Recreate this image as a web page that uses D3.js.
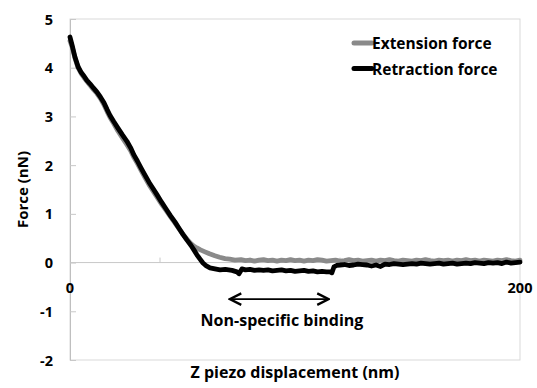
<!DOCTYPE html>
<html>
<head>
<meta charset="utf-8">
<script src="https://cdn.jsdelivr.net/npm/d3@7"></script>
<style>
  html, body { margin: 0; padding: 0; background: #fff; }
  svg { display: block; }
  text { font-family: "Open Sans", Lato, sans-serif; font-weight: 700; fill: #000; }
</style>
</head>
<body>
<svg id="chart" width="537" height="388"></svg>
<script>
// Z piezo displacement (nm) and force (nN) for the approach (extension) curve
const extX = [0, 1, 2.2, 3.6, 5, 6.2, 7.5, 8.9, 10.5, 12, 13.5, 15.1, 16.5, 17.8, 19.5, 21.3, 23.3, 25.3, 26.9, 28.4, 30, 31.6, 33.4, 35.1, 36.9, 38.7, 40.7, 42.7, 44.7, 46.7, 48.5, 50.2, 52, 53.5, 55, 56.4, 58, 60, 62, 64.4, 66.5, 68.9, 71, 73.3, 76, 78, 80, 82, 84, 86, 88, 90, 92, 94, 96, 98, 100, 102, 104, 106, 108, 110, 112, 114, 116, 118, 120, 122, 124, 126, 128, 130, 132, 134, 136, 138, 140, 142, 144, 146, 148, 150, 152, 154, 156, 158, 160, 162, 164, 166, 168, 170, 172, 174, 176, 178, 180, 182, 184, 186, 188, 190, 192, 194, 196, 198, 200];
const extY = [4.55, 4.42, 4.2, 4.0, 3.88, 3.8, 3.72, 3.64, 3.55, 3.47, 3.37, 3.24, 3.1, 2.98, 2.85, 2.7, 2.56, 2.42, 2.3, 2.16, 2.03, 1.89, 1.74, 1.6, 1.47, 1.34, 1.2, 1.07, 0.94, 0.81, 0.69, 0.58, 0.48, 0.4, 0.34, 0.3, 0.26, 0.22, 0.18, 0.14, 0.11, 0.08, 0.07, 0.05, 0.06, 0.04, 0.05, 0.03, 0.05, 0.06, 0.04, 0.05, 0.03, 0.05, 0.04, 0.06, 0.04, 0.05, 0.03, 0.05, 0.04, 0.06, 0.05, 0.03, 0.04, 0.05, 0.03, 0.04, 0.06, 0.04, 0.05, 0.03, 0.04, 0.05, 0.03, 0.05, 0.04, 0.06, 0.04, 0.03, 0.05, 0.04, 0.03, 0.05, 0.04, 0.06, 0.04, 0.03, 0.05, 0.04, 0.05, 0.03, 0.05, 0.04, 0.06, 0.04, 0.05, 0.03, 0.05, 0.04, 0.03, 0.05, 0.04, 0.06, 0.04, 0.03, 0.05];

// Withdrawal (retraction) curve
const retX = [0, 0.9, 2.2, 3.6, 5, 6.2, 7.5, 8.9, 10.5, 12, 13.5, 15.1, 16.5, 17.8, 19.5, 21.3, 23.3, 25.3, 26.9, 28.4, 30, 31.6, 33.4, 35.1, 36.9, 38.7, 40.7, 42.7, 44.7, 46.7, 48.5, 50.2, 52, 53.8, 55.2, 56.4, 57.8, 59.1, 60.6, 62.2, 64.4, 66.7, 69, 72, 74.2, 75.1, 76.4, 78, 80, 82, 84, 86, 88, 90, 92, 94, 96, 98, 100, 102, 104, 106, 108, 110, 112, 114, 115.6, 116.4, 117.3, 118.5, 120, 122, 124, 126, 128, 130, 132, 134, 136, 138, 140, 142, 144, 146, 148, 150, 152, 154, 156, 158, 160, 162, 164, 166, 168, 170, 172, 174, 176, 178, 180, 182, 184, 186, 188, 190, 192, 194, 196, 198, 200];
const retY = [4.63, 4.47, 4.22, 4.02, 3.9, 3.83, 3.74, 3.67, 3.58, 3.5, 3.4, 3.28, 3.14, 3.02, 2.89, 2.76, 2.62, 2.49, 2.36, 2.21, 2.08, 1.94, 1.79, 1.65, 1.52, 1.39, 1.24, 1.1, 0.96, 0.83, 0.7, 0.58, 0.46, 0.35, 0.25, 0.16, 0.07, -0.01, -0.07, -0.11, -0.13, -0.15, -0.14, -0.16, -0.19, -0.23, -0.13, -0.15, -0.14, -0.16, -0.15, -0.16, -0.15, -0.17, -0.16, -0.15, -0.17, -0.16, -0.18, -0.17, -0.16, -0.18, -0.17, -0.19, -0.18, -0.19, -0.19, -0.21, -0.09, -0.06, -0.05, -0.04, -0.06, -0.05, -0.03, -0.04, -0.05, -0.07, -0.05, -0.08, -0.03, -0.04, -0.02, -0.03, -0.04, -0.03, -0.02, -0.03, -0.01, -0.02, -0.03, -0.02, -0.01, -0.03, -0.02, -0.01, -0.03, -0.02, -0.01, -0.02, 0.0, -0.01, -0.02, 0.0, -0.01, 0.0, -0.02, 0.01, -0.01, 0.0, 0.01];

const yTicks = [-2, -1, 0, 1, 2, 3, 4, 5];
const xTickLabels = [0, 200];
const xMinorTicks = [40, 80, 120, 160];
const seriesNames = ["Extension force", "Retraction force"];
const seriesColors = ["#8a8a8a", "#000000"];
const bindingRange = [71, 115];

const svg = d3.select("#chart");
const m = { left: 70, right: 17, top: 19, bottom: 28 };
const W = 537, H = 388;

const x = d3.scaleLinear().domain([0, 200]).range([m.left, W - m.right]);
const y = d3.scaleLinear().domain([-2, 5]).range([H - m.bottom, m.top]);

// Plot-area frame
svg.append("rect")
  .attr("x", x(0)).attr("y", y(5))
  .attr("width", x(200) - x(0)).attr("height", y(-2) - y(5))
  .attr("fill", "none").attr("stroke", "#d9d9d9").attr("stroke-width", 1);

// Horizontal axis along zero force
svg.append("line")
  .attr("x1", x(0)).attr("x2", x(200))
  .attr("y1", y(0)).attr("y2", y(0))
  .attr("stroke", "#c8c8c8").attr("stroke-width", 1);

svg.selectAll(".xminor").data(xMinorTicks).join("line")
  .attr("x1", d => x(d)).attr("x2", d => x(d))
  .attr("y1", y(0)).attr("y2", y(0) - 5)
  .attr("stroke", "#c8c8c8");

// Vertical axis
const yAxis = d3.axisRight(y).tickValues(yTicks).tickSize(6).tickFormat("");
const ya = svg.append("g").attr("transform", `translate(${x(0)},0)`).call(yAxis);
ya.select(".domain").attr("stroke", "#bfbfbf");
ya.selectAll(".tick line").attr("stroke", "#c8c8c8");

svg.selectAll(".ylab").data(yTicks).join("text")
  .attr("x", 53).attr("y", d => y(d))
  .attr("text-anchor", "end").attr("dominant-baseline", "central")
  .attr("font-size", 14.5)
  .text(d => d);

svg.selectAll(".xlab").data(xTickLabels).join("text")
  .attr("x", d => x(d)).attr("y", y(0) + 25)
  .attr("text-anchor", "middle").attr("dominant-baseline", "central")
  .attr("font-size", 14.5)
  .text(d => d);

// Axis titles
svg.append("text")
  .attr("x", (x(0) + x(200)) / 2).attr("y", 372)
  .attr("text-anchor", "middle").attr("dominant-baseline", "central")
  .attr("font-size", 16)
  .text("Z piezo displacement (nm)");

svg.append("text")
  .attr("transform", `translate(22,${(y(5) + y(-2)) / 2}) rotate(-90)`)
  .attr("text-anchor", "middle").attr("dominant-baseline", "central")
  .attr("font-size", 15)
  .text("Force (nN)");

// Force curves
const line = d3.line().x(d => x(d[0])).y(d => y(d[1]));
const series = [d3.zip(extX, extY), d3.zip(retX, retY)];
svg.selectAll(".curve").data(series).join("path")
  .attr("d", line)
  .attr("fill", "none")
  .attr("stroke", (d, i) => seriesColors[i])
  .attr("stroke-width", 4.8)
  .attr("stroke-linejoin", "round")
  .attr("stroke-linecap", "round");

// Legend
const lg = svg.append("g");
seriesNames.forEach((name, i) => {
  const ly = 43 + i * 25.5;
  lg.append("line")
    .attr("x1", 354).attr("x2", 372).attr("y1", ly).attr("y2", ly)
    .attr("stroke", seriesColors[i]).attr("stroke-width", 5)
    .attr("stroke-linecap", "round");
  lg.append("text")
    .attr("x", 372).attr("y", ly)
    .attr("dominant-baseline", "central")
    .attr("font-size", 15.5)
    .text(name);
});

// Non-specific binding annotation
const defs = svg.append("defs");
defs.append("marker")
  .attr("id", "head").attr("viewBox", "0 0 10 10")
  .attr("refX", 9).attr("refY", 5)
  .attr("markerWidth", 8).attr("markerHeight", 8)
  .attr("orient", "auto-start-reverse")
  .append("path").attr("d", "M1,1 L9,5 L1,9")
  .attr("fill", "none").attr("stroke", "#000").attr("stroke-width", 1.6);

svg.append("line")
  .attr("x1", x(bindingRange[0])).attr("x2", x(bindingRange[1]))
  .attr("y1", y(-0.75)).attr("y2", y(-0.75))
  .attr("stroke", "#000").attr("stroke-width", 1.8)
  .attr("marker-start", "url(#head)").attr("marker-end", "url(#head)");

svg.append("text")
  .attr("x", 282).attr("y", y(-1.17))
  .attr("text-anchor", "middle").attr("dominant-baseline", "central")
  .attr("font-size", 16)
  .text("Non-specific binding");
</script>
</body>
</html>
